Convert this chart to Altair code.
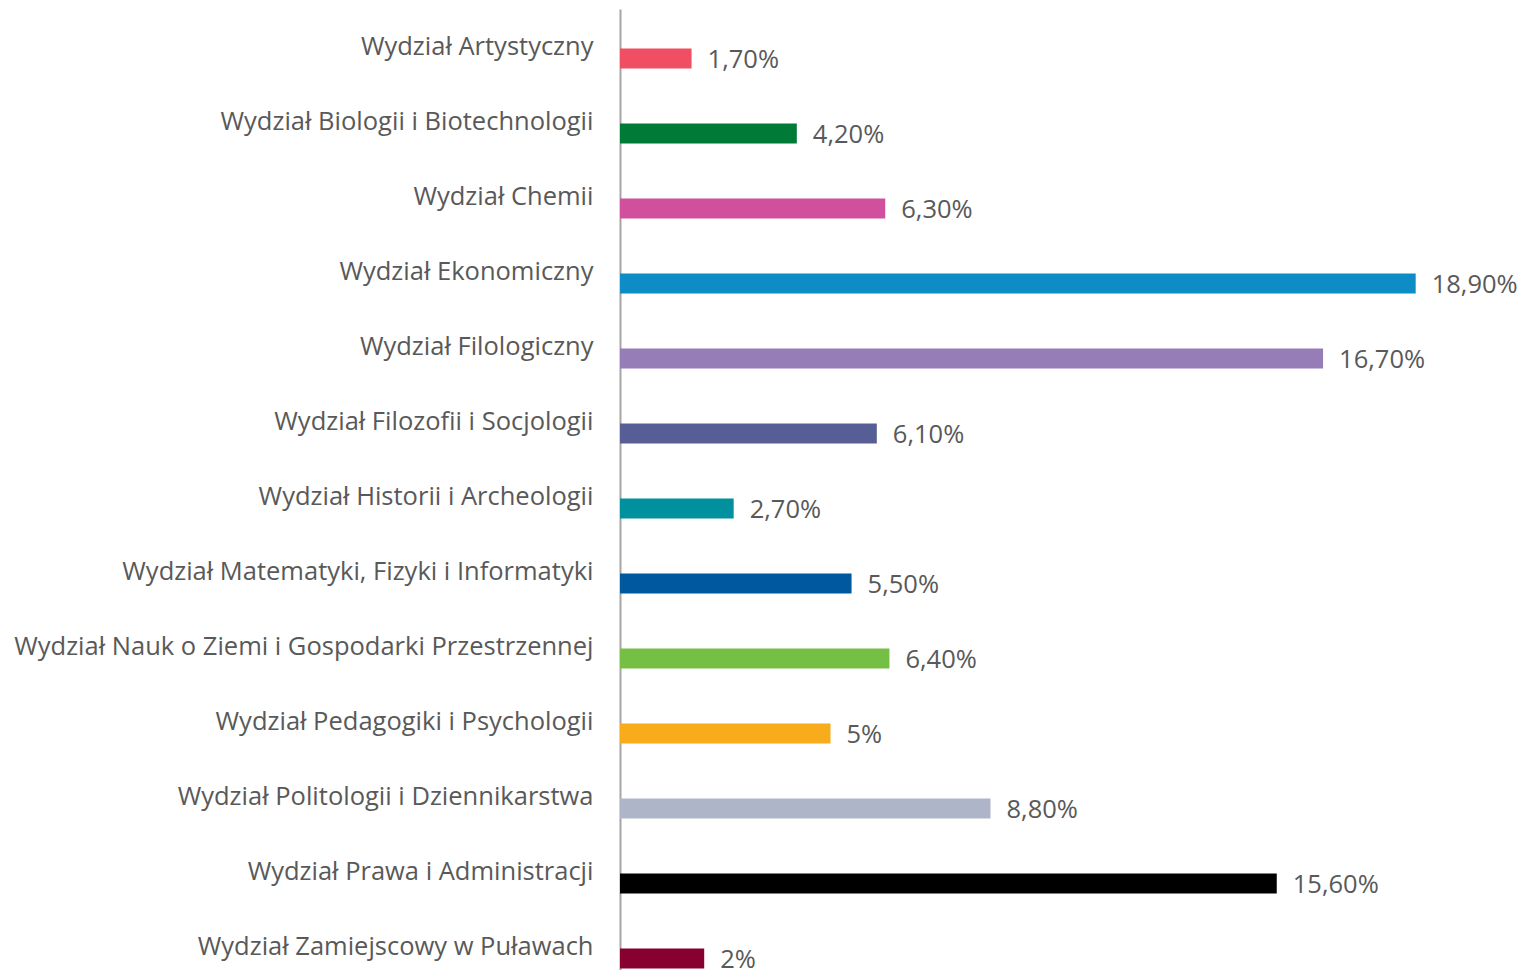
import altair as alt
import pandas as pd

faculties = [
    "Wydział Artystyczny",
    "Wydział Biologii i Biotechnologii",
    "Wydział Chemii",
    "Wydział Ekonomiczny",
    "Wydział Filologiczny",
    "Wydział Filozofii i Socjologii",
    "Wydział Historii i Archeologii",
    "Wydział Matematyki, Fizyki i Informatyki",
    "Wydział Nauk o Ziemi i Gospodarki Przestrzennej",
    "Wydział Pedagogiki i Psychologii",
    "Wydział Politologii i Dziennikarstwa",
    "Wydział Prawa i Administracji",
    "Wydział Zamiejscowy w Puławach",
]
values = [1.7, 4.2, 6.3, 18.9, 16.7, 6.1, 2.7, 5.5, 6.4, 5.0, 8.8, 15.6, 2.0]
value_labels = ["1,70%", "4,20%", "6,30%", "18,90%", "16,70%", "6,10%", "2,70%",
                "5,50%", "6,40%", "5%", "8,80%", "15,60%", "2%"]
colors = ["#EF4E63", "#007A37", "#D0509E", "#0E8CC6", "#967DB8", "#575E95",
          "#00909E", "#00599E", "#75BF45", "#F8AB1B", "#AEB5C8", "#000000", "#860030"]

df = pd.DataFrame({"faculty": faculties, "value": values, "label": value_labels, "color": colors})

FONT = "Open Sans"
TXT = "#595959"
FS = 25.5

y = alt.Y(
    "faculty:N",
    sort=faculties,
    title=None,
    scale=alt.Scale(range=[0, 999], paddingInner=0, paddingOuter=0.16),
    axis=alt.Axis(
        domain=True, domainColor="#A6A6A6", domainWidth=2,
        ticks=False, grid=False,
        labelFont=FONT, labelFontSize=FS, labelColor=TXT,
        labelPadding=27, labelOffset=-12, labelLimit=700,
    ),
)
x = alt.X("value:Q", title=None, scale=alt.Scale(domain=[0, 20], nice=False, zero=True), axis=None)

bars = alt.Chart(df).mark_bar(size=20).encode(
    x=x, y=y, color=alt.Color("color:N", scale=None)
)
texts = alt.Chart(df).mark_text(
    align="left", baseline="middle", dx=16, dy=1, font=FONT, fontSize=FS, color=TXT
).encode(x=x, y=y, text="label:N")

chart = (bars + texts).properties(
    width=842, height=961,
    background="white",
    autosize=alt.AutoSizeParams(type="none"),
    padding={"left": 612, "top": 1, "right": 64, "bottom": 0},
).configure_view(stroke=None, strokeWidth=0)

chart.save("out.html", embed_options={"renderer": "svg", "actions": False})
